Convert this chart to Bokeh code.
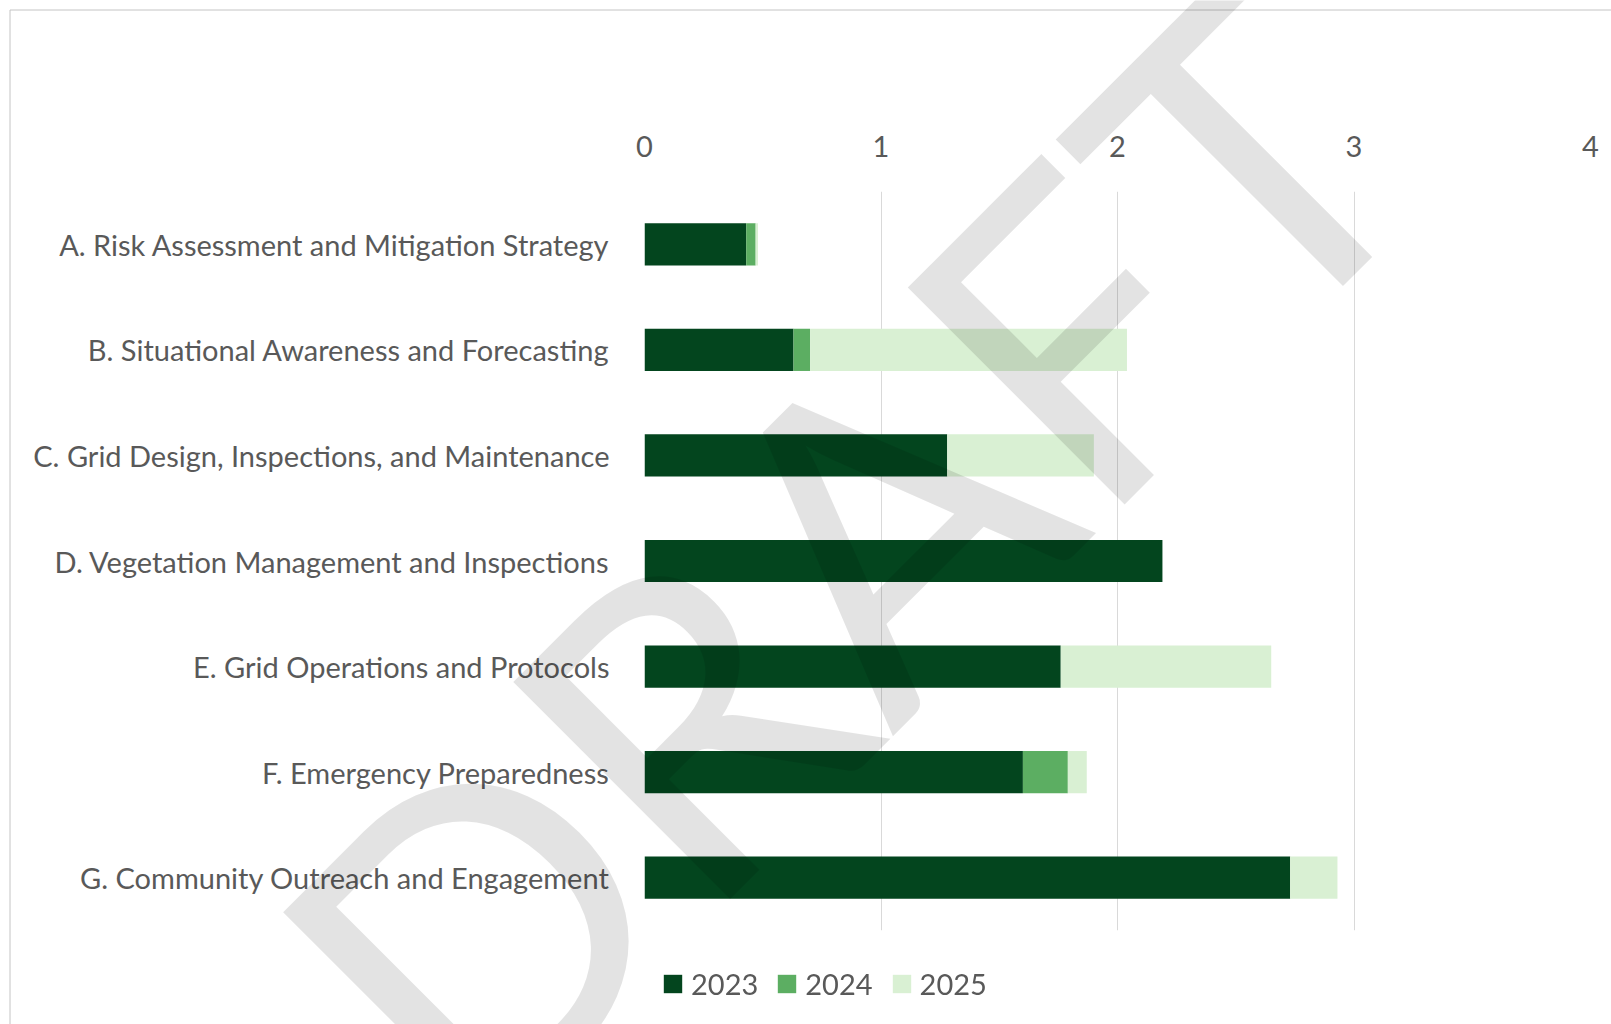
import math
from bokeh.plotting import figure
from bokeh.models import ColumnDataSource, FactorRange, Range1d, FixedTicker
from bokeh.core.properties import value
from bokeh.embed import file_html
from bokeh.resources import INLINE

categories = [
    "A. Risk Assessment and Mitigation Strategy",
    "B. Situational Awareness and Forecasting",
    "C. Grid Design, Inspections, and Maintenance",
    "D. Vegetation Management and Inspections",
    "E. Grid Operations and Protocols",
    "F. Emergency Preparedness",
    "G. Community Outreach and Engagement",
]
years = ["2023", "2024", "2025"]
v2023 = [0.43, 0.63, 1.28, 2.19, 1.76, 1.60, 2.73]
v2024 = [0.04, 0.07, 0.00, 0.00, 0.00, 0.19, 0.00]
v2025 = [0.01, 1.34, 0.62, 0.00, 0.89, 0.08, 0.20]
x_ticks = [0, 1, 2, 3, 4]
colors = ["#03451e", "#5cae62", "#d9f0d3"]
watermark = "DRAFT"

FONT = "Lato"
TXT = "#595959"
PAGE_W, PAGE_H = 1611, 1024

source = ColumnDataSource(dict(cat=categories, y2023=v2023, y2024=v2024, y2025=v2025))

# ---------------- main chart ----------------
p = figure(
    width=PAGE_W, height=PAGE_H,
    y_range=FactorRange(*reversed(categories), range_padding=0),
    x_range=Range1d(0, 4),
    x_axis_location="above",
    output_backend="svg", toolbar_location=None,
    min_border_left=644, min_border_right=21, min_border_top=191, min_border_bottom=94,
)
p.outline_line_color = None
p.background_fill_color = "white"
p.border_fill_color = "white"

p.hbar_stack(["y2023", "y2024", "y2025"], y="cat", height=0.4, color=colors,
             line_color=None, source=source)

p.xaxis.ticker = FixedTicker(ticks=x_ticks)
p.xaxis.axis_line_color = None
p.xaxis.major_tick_line_color = None
p.xaxis.minor_tick_line_color = None
p.xaxis.major_tick_out = 0
p.xaxis.major_tick_in = 0
p.xaxis.major_label_standoff = 35
p.xaxis.major_label_text_font = FONT
p.xaxis.major_label_text_font_size = "29px"
p.xaxis.major_label_text_color = TXT

p.yaxis.axis_line_color = None
p.yaxis.major_tick_line_color = None
p.yaxis.major_tick_out = 0
p.yaxis.major_tick_in = 0
p.yaxis.major_label_standoff = 35
p.yaxis.major_label_text_font = FONT
p.yaxis.major_label_text_font_size = "29px"
p.yaxis.major_label_text_color = TXT

p.xgrid.grid_line_color = "#d9d9d9"
p.xgrid.grid_line_width = 1
p.ygrid.grid_line_color = None

# ------------- overlay: chart border, legend, watermark -------------
wm = figure(width=PAGE_W, height=PAGE_H, x_range=Range1d(0, PAGE_W), y_range=Range1d(0, PAGE_H),
            x_axis_location=None, y_axis_location=None,
            output_backend="svg", toolbar_location=None, min_border=0)
wm.grid.visible = False
wm.outline_line_color = None
wm.background_fill_alpha = 0
wm.border_fill_alpha = 0
wm.styles = {"position": "fixed", "left": "0px", "top": "0px", "pointer-events": "none",
             "z-index": "10"}

# chart area border (left and top edges visible in the crop)
wm.segment(x0=[9.5, 9.5], y0=[PAGE_H - 9.5, PAGE_H - 9.5], x1=[9.5, PAGE_W],
           y1=[0, PAGE_H - 9.5], line_color="#c4c4c4", line_width=1)

# legend entries (proxy renderers kept outside the visible area)
for yr, c in zip(years, colors):
    wm.hbar(y=[-500], left=[-510], right=[-500], height=1, color=c, line_color=None,
            legend_label=yr)
lg = wm.legend[0]
lg.orientation = "horizontal"
lg.location = (661, 23)
lg.border_line_color = None
lg.background_fill_alpha = 0
lg.padding = 0
lg.margin = 0
lg.spacing = 17
lg.glyph_width = 23
lg.glyph_height = 23
lg.label_standoff = 7
lg.label_height = 20
lg.label_text_font = FONT
lg.label_text_font_size = "29px"
lg.label_text_color = TXT

# DRAFT watermark
wm.text(x=[842], y=[PAGE_H - 552], text=[watermark], angle=math.pi / 4,
        text_font=value(FONT), text_font_size="428px", text_color="black",
        text_alpha=0.11, text_align="center", text_baseline="alphabetic")

open("out.html", "w").write(file_html([p, wm], INLINE))
